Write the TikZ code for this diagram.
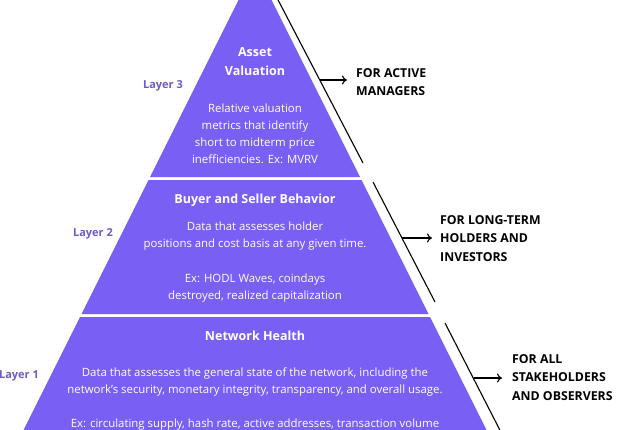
\documentclass[tikz,border=0pt]{standalone}
\usepackage{fontspec}
\setmainfont{Open Sans}
\usetikzlibrary{arrows.meta}
\definecolor{pyr}{HTML}{7A5FF5}
\definecolor{lay}{HTML}{6C5CC8}
\begin{document}
\begin{tikzpicture}[x=1pt,y=-1pt,
  layerfill/.style={fill=pyr,draw=none},
  ttl/.style={text=white,align=center,inner sep=0pt,font=\fontsize{12.5}{19}\selectfont\bfseries},
  dsc/.style={text=white,align=center,inner sep=0pt,font=\fontsize{11.4}{17}\selectfont},
  laylab/.style={text=lay,inner sep=0pt,font=\fontsize{11}{13}\selectfont\bfseries},
  audience/.style={text=black,align=left,anchor=west,inner sep=0pt,font=\fontsize{12.3}{18.5}\selectfont\bfseries},
  guide/.style={draw=black,line width=1.1pt},
  pointer/.style={draw=black,line width=1.1pt,-{To[length=5pt,width=9pt]}}]
\useasboundingbox (0,0) rectangle (640,429);
\fill[white] (0,0) rectangle (640,429);
\clip (0,0) rectangle (640,429);
% pyramid layers
\path[layerfill] (255,-33) -- (360,177) -- (150,177) -- cycle;
\path[layerfill] (148.5,180) -- (361.5,180) -- (428.5,314) -- (81.5,314) -- cycle;
\path[layerfill] (80,317) -- (430,317) -- (491.5,440) -- (18.5,440) -- cycle;
% layer texts
\node[ttl] (t3) at (255,62) {Asset\\Valuation};
\node[dsc] (d3) at (255,134) {Relative valuation\\metrics that identify\\short to midterm price\\inefficiencies. Ex: MVRV};
\node[ttl] (t2) at (255,200) {Buyer and Seller Behavior};
\node[dsc] (d2a) at (255,236) {Data that assesses holder\\positions and cost basis at any given time.};
\node[dsc] (d2b) at (255,288) {Ex: HODL Waves, coindays\\destroyed, realized capitalization};
\node[ttl] (t1) at (255,336) {Network Health};
\node[dsc] (d1a) at (255,382) {Data that assesses the general state of the network, including the\\network’s security, monetary integrity, transparency, and overall usage.};
\node[dsc] (d1b) at (255,425) {Ex: circulating supply, hash rate, active addresses, transaction volume};
% layer labels
\node[laylab] (L3) at (163,86) {Layer 3};
\node[laylab] (L2) at (93,234) {Layer 2};
\node[laylab] (L1) at (19,376) {Layer 1};
% guide lines
\coordinate (g1a) at (276,-4);
\coordinate (g1b) at (363,163);
\coordinate (g2a) at (373,182);
\coordinate (g2b) at (435,302);
\coordinate (g3a) at (445,323);
\coordinate (g3b) at (505,440);
\draw[guide] (g1a) -- (g1b);
\draw[guide] (g2a) -- (g2b);
\draw[guide] (g3a) -- (g3b);
% audience labels
\node[audience] (A3) at (356,82) {FOR ACTIVE\\MANAGERS};
\node[audience] (A2) at (440,238.5) {FOR LONG-TERM\\HOLDERS AND\\INVESTORS};
\node[audience] (A1) at (512,377.5) {FOR ALL\\STAKEHOLDERS\\AND OBSERVERS};
% pointers
\coordinate (p3) at (319.5,80);
\coordinate (q3) at (347,80);
\coordinate (p2) at (402,238);
\coordinate (q2) at (432,238);
\coordinate (p1) at (473.5,378);
\coordinate (q1) at (502,378);
\draw[pointer] (p3) -- (q3);
\draw[pointer] (p2) -- (q2);
\draw[pointer] (p1) -- (q1);
\end{tikzpicture}
\end{document}
